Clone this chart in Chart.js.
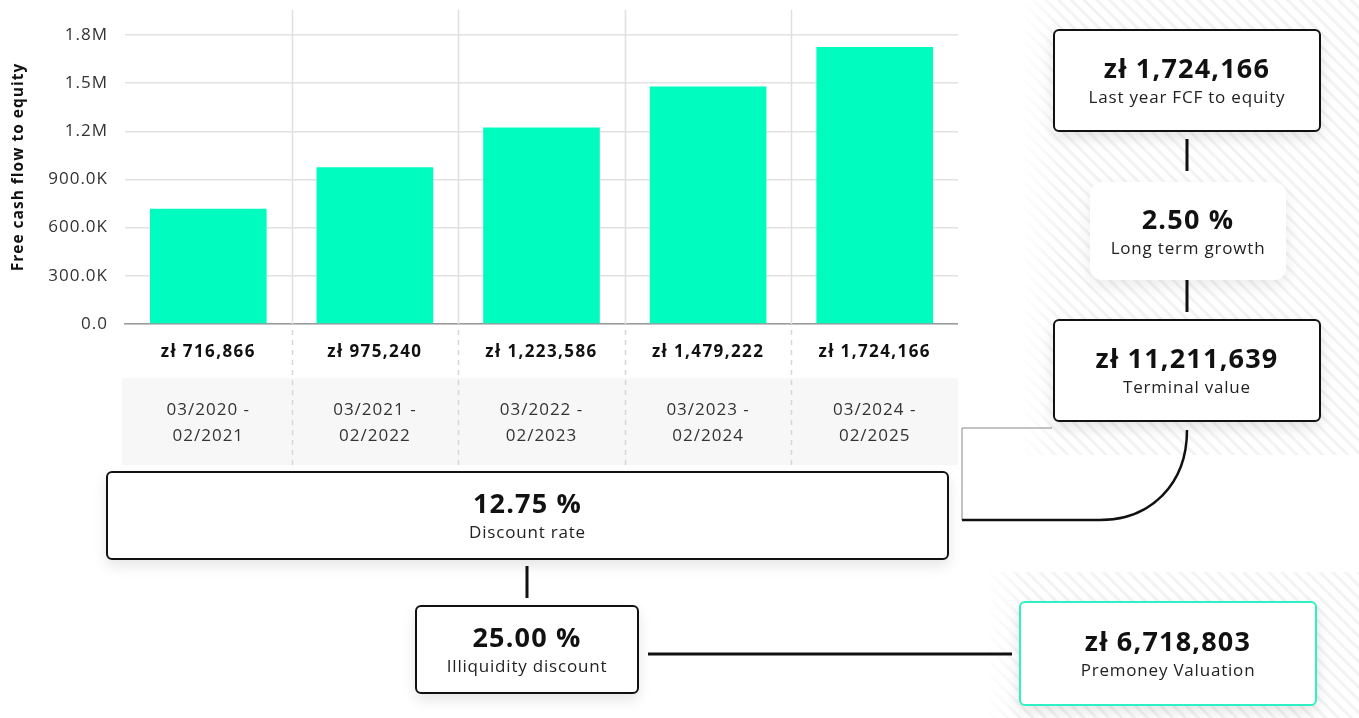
<!DOCTYPE html>
<html>
<head>
<meta charset="utf-8">
<script src="https://cdn.jsdelivr.net/npm/chart.js@4"></script>
<style>
  html, body { margin: 0; padding: 0; background: #fff; font-family: "Open Sans", "Noto Sans", sans-serif; }
  #page { position: relative; width: 1359px; height: 718px; overflow: hidden; }
  #chartWrap { position: absolute; left: 0; top: 0; width: 958px; height: 470px; }
  .hatch {
    position: absolute;
    background: repeating-linear-gradient(45deg, #ffffff 0px, #ffffff 5px, #f3f3f3 6px, #f3f3f3 8px, #ffffff 9px);
    -webkit-mask-image: linear-gradient(to right, transparent 0, #000 40px);
    mask-image: linear-gradient(to right, transparent 0, #000 40px);
  }
  .box {
    position: absolute; box-sizing: border-box; background: #fff;
    border: 2px solid #111; border-radius: 6px;
    box-shadow: 0 6px 14px rgba(0,0,0,0.10);
    display: flex; flex-direction: column; align-items: center; justify-content: center;
    color: #111;
  }
  .box .big { font-weight: 700; font-size: 27px; line-height: 32px; letter-spacing: 1.2px; }
  .box .small { font-size: 17px; line-height: 24px; color: #222; margin-top: 1px; letter-spacing: 0.8px; }
  .box.plain { border: none; border-radius: 12px; box-shadow: 0 6px 16px rgba(0,0,0,0.08); }
  .box.teal { border-color: #2ff0c4; }
  svg { position: absolute; left: 0; top: 0; }
</style>
</head>
<body>
<div id="page">
  <div class="hatch" style="left:1020px; top:0; width:339px; height:455px;"></div>
  <div class="hatch" style="left:985px; top:572px; width:374px; height:146px;"></div>

  <div id="chartWrap"><canvas id="mainChart"></canvas></div>

  <svg width="1359" height="718">
    <line x1="962" y1="428" x2="1052" y2="428" stroke="#888" stroke-width="1"/>
    <line x1="962" y1="428" x2="962" y2="520" stroke="#888" stroke-width="1"/>
    <path d="M 962 520 H 1100 C 1150 520 1187 485 1187 430" fill="none" stroke="#111" stroke-width="2.5"/>
    <line x1="1187" y1="139" x2="1187" y2="171" stroke="#111" stroke-width="3"/>
    <line x1="1187" y1="280" x2="1187" y2="312" stroke="#111" stroke-width="3"/>
    <line x1="527" y1="566" x2="527" y2="598" stroke="#111" stroke-width="3"/>
    <line x1="648" y1="654" x2="1012" y2="654" stroke="#111" stroke-width="3"/>
  </svg>

  <div class="box" style="left:1053px; top:29px; width:268px; height:103px;">
    <div class="big">zł 1,724,166</div><div class="small">Last year FCF to equity</div>
  </div>
  <div class="box plain" style="left:1090px; top:182px; width:196px; height:98px;">
    <div class="big">2.50 %</div><div class="small">Long term growth</div>
  </div>
  <div class="box" style="left:1053px; top:319px; width:268px; height:103px;">
    <div class="big">zł 11,211,639</div><div class="small">Terminal value</div>
  </div>
  <div class="box" style="left:106px; top:471px; width:843px; height:89px;">
    <div class="big">12.75 %</div><div class="small">Discount rate</div>
  </div>
  <div class="box" style="left:415px; top:605px; width:224px; height:89px;">
    <div class="big">25.00 %</div><div class="small">Illiquidity discount</div>
  </div>
  <div class="box teal" style="left:1019px; top:601px; width:298px; height:105px;">
    <div class="big">zł 6,718,803</div><div class="small">Premoney Valuation</div>
  </div>
</div>

<script>
// dane
const periods = [
  ['03/2020 -', '02/2021'],
  ['03/2021 -', '02/2022'],
  ['03/2022 -', '02/2023'],
  ['03/2023 -', '02/2024'],
  ['03/2024 -', '02/2025']
];
const fcfValues = [716866, 975240, 1223586, 1479222, 1724166];
const valueLabels = ['zł 716,866', 'zł 975,240', 'zł 1,223,586', 'zł 1,479,222', 'zł 1,724,166'];
const yTickLabels = ['0.0', '300.0K', '600.0K', '900.0K', '1.2M', '1.5M', '1.8M'];
const yTickStep = 300000;

const FONT = '"Open Sans", "Noto Sans", sans-serif';

// odstęp liter jak w oryginale
const spacingPlugin = {
  id: 'spacingPlugin',
  beforeDraw(chart) { chart.ctx.letterSpacing = '1px'; }
};

// siatka pionowa + etykiety wartości + pole z okresami pod osią
const periodPlugin = {
  id: 'periodPlugin',
  beforeDatasetsDraw(chart) {
    const { ctx, chartArea, scales } = chart;
    const x = scales.x;
    const half = (x.getPixelForValue(1) - x.getPixelForValue(0)) / 2;

    ctx.save();
    ctx.fillStyle = '#f7f7f7';
    ctx.fillRect(chartArea.left - 3, 378, chartArea.right - chartArea.left + 4, 87);

    for (let i = 1; i < fcfValues.length; i++) {
      const px = Math.round(x.getPixelForValue(i) - half) + 0.5;
      ctx.strokeStyle = '#e0e0e0';
      ctx.lineWidth = 1.5;
      ctx.setLineDash([]);
      ctx.beginPath();
      ctx.moveTo(px, 10);
      ctx.lineTo(px, chartArea.bottom);
      ctx.stroke();

      ctx.strokeStyle = '#d6d6d6';
      ctx.setLineDash([5, 5]);
      ctx.beginPath();
      ctx.moveTo(px, chartArea.bottom + 6);
      ctx.lineTo(px, 465);
      ctx.stroke();
    }
    ctx.setLineDash([]);

    ctx.textAlign = 'center';
    ctx.textBaseline = 'middle';
    ctx.letterSpacing = '1.4px';
    ctx.fillStyle = '#111';
    ctx.font = 'bold 17px ' + FONT;
    valueLabels.forEach((t, i) => ctx.fillText(t, x.getPixelForValue(i), 352));

    ctx.letterSpacing = '1px';
    ctx.fillStyle = '#333';
    ctx.font = '17px ' + FONT;
    periods.forEach((p, i) => {
      const cx = x.getPixelForValue(i);
      ctx.fillText(p[0], cx, 410);
      ctx.fillText(p[1], cx, 436);
    });
    ctx.restore();
  }
};

const ctx = document.getElementById('mainChart').getContext('2d');
new Chart(ctx, {
  type: 'bar',
  data: {
    labels: valueLabels,
    datasets: [{
      label: 'Free cash flow to equity',
      data: fcfValues,
      backgroundColor: '#00fdbf',
      borderWidth: 0,
      barPercentage: 0.7,
      categoryPercentage: 1.0
    }]
  },
  options: {
    responsive: true,
    maintainAspectRatio: false,
    animation: false,
    layout: { padding: { top: 10, right: 0, left: 0, bottom: 0 } },
    plugins: {
      legend: { display: false },
      tooltip: { enabled: false }
    },
    scales: {
      x: {
        grid: { display: false },
        border: { display: true, color: '#9a9a9a', width: 1.5 },
        ticks: { display: false },
        afterFit(scale) { scale.height = 146; scale.paddingLeft = 0; scale.paddingRight = 0; }
      },
      y: {
        min: 0,
        max: 1955000,
        grid: { color: '#e2e2e2', lineWidth: 1.5, drawTicks: false },
        border: { display: false },
        afterBuildTicks(scale) {
          scale.ticks = yTickLabels.map((_, i) => ({ value: i * yTickStep }));
        },
        ticks: {
          color: '#333',
          padding: 17,
          font: { family: FONT, size: 17 },
          callback: (v) => yTickLabels[Math.round(v / yTickStep)]
        },
        title: {
          display: true,
          text: 'Free cash flow to equity',
          color: '#111',
          padding: { top: 9, bottom: 0 },
          font: { family: FONT, size: 15.5, weight: 'bold' }
        },
        afterFit(scale) { scale.width = 125; scale.paddingTop = 0; scale.paddingBottom = 0; }
      }
    }
  },
  plugins: [spacingPlugin, periodPlugin]
});
</script>
</body>
</html>
